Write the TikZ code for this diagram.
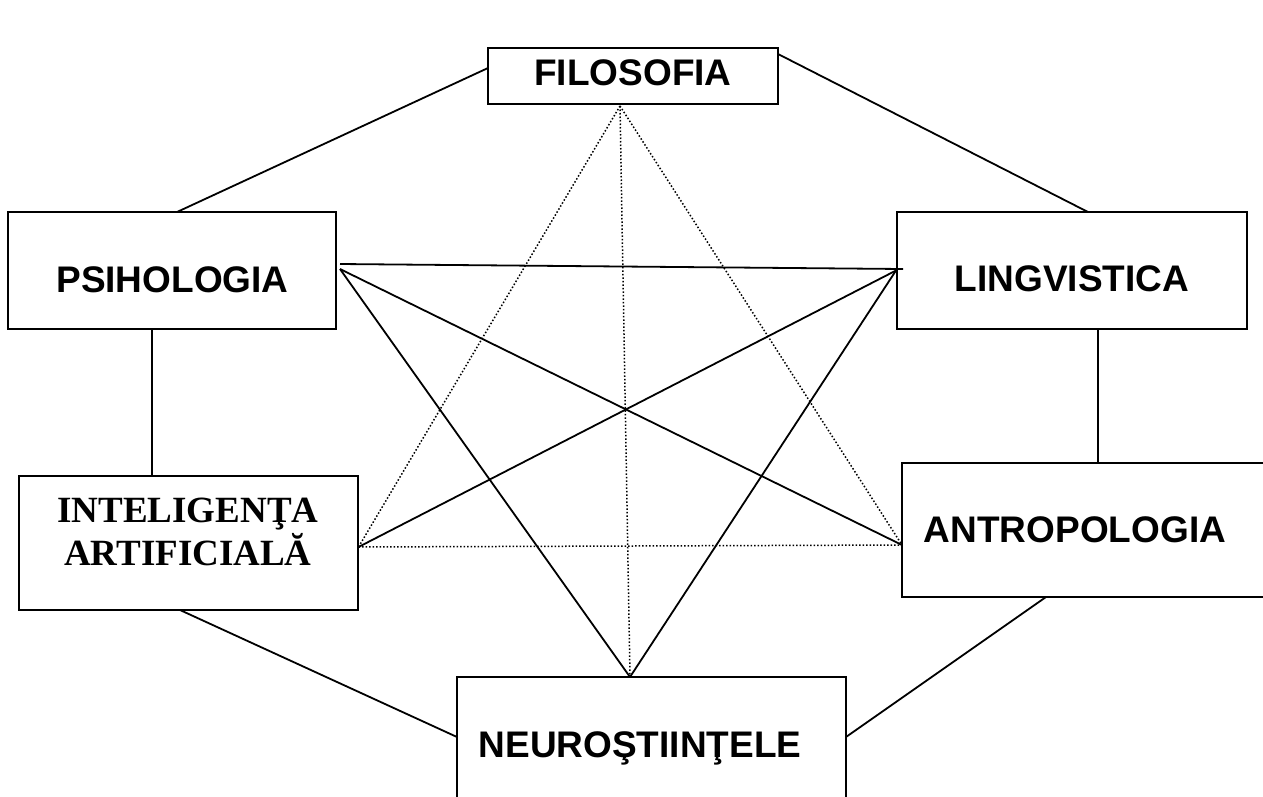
\documentclass[tikz,border=0pt]{standalone}
\usepackage{fontspec}
\setmainfont{Liberation Sans}
\newfontfamily\timesf{Liberation Serif}
\usetikzlibrary{calc}
\tikzset{
  box/.style={draw, line width=2pt, inner sep=0pt, outer sep=0pt, rectangle},
  lbl/.style={anchor=base, inner sep=0pt, font=\fontsize{37}{43}\selectfont\bfseries},
  conn/.style={line width=1.8pt},
  dots/.style={line width=1.5pt, dotted}
}
\begin{document}
\begin{tikzpicture}[x=1pt,y=-1pt]
\useasboundingbox (0,0) rectangle (1263,796);
\clip (0,0) rectangle (1263,796);
% boxes
\node[box, minimum width=290pt, minimum height=56pt] (filo) at (633,76) {};
\node[box, minimum width=328pt, minimum height=117pt] (psih) at (172,270.5) {};
\node[box, minimum width=350pt, minimum height=117pt] (ling) at (1072,270.5) {};
\node[box, minimum width=339pt, minimum height=134pt] (ia) at (188.5,543) {};
\node[box, minimum width=378pt, minimum height=134pt] (antr) at (1091,530) {};
\node[box, minimum width=389pt, minimum height=153pt] (neuro) at (651.5,753.5) {};
% labels
\node[lbl] (tfilo) at (633,85) {FILOSOFIA};
\node[lbl] (tpsih) at (172.5,292) {PSIHOLOGIA};
\node[lbl] (tling) at (1072,291) {LINGVISTICA};
\node[lbl, font=\fontsize{37}{43}\selectfont\bfseries\timesf] (tia1) at (188,522) {INTELIGENŢA};
\node[lbl, font=\fontsize{37}{43}\selectfont\bfseries\timesf] (tia2) at (188,565) {ARTIFICIALĂ};
\node[lbl] (tantr) at (1075,542) {ANTROPOLOGIA};
\node[lbl] (tneuro) at (640,757) {NEUROŞTIINŢELE};
% apex coordinates
\coordinate (pH) at ([xshift=4pt,yshift=6.5pt]psih.east);
\coordinate (pA) at ([xshift=4pt,yshift=1.5pt]psih.east);
\coordinate (lA) at ([xshift=-1pt]ling.west);
\coordinate (lH) at ([xshift=6pt,yshift=1.5pt]ling.west);
\coordinate (fA) at ([xshift=-13pt,yshift=-2pt]filo.south);
\coordinate (iA) at ([xshift=0.5pt,yshift=-4pt]ia.east);
\coordinate (aA) at ([yshift=-15pt]antr.west);
\coordinate (nA) at ([xshift=-21.5pt]neuro.north);
% outer hexagon
\draw[conn] ([yshift=8pt]filo.west) -- ([xshift=5pt]psih.north);
\draw[conn] ([yshift=22pt]filo.east) -- ([xshift=16pt]ling.north);
\draw[conn] ([xshift=-20pt]psih.south) -- ([xshift=-20pt]psih.south |- ia.north);
\draw[conn] ([xshift=26pt,yshift=1pt]ling.south) -- ([xshift=26pt]ling.south |- antr.north);
\draw[conn] ([xshift=-8.5pt]ia.south) -- ([yshift=16.5pt]neuro.west);
\draw[conn] ([xshift=-45pt]antr.south) -- ([yshift=16.5pt]neuro.east);
% inner solid lines
\draw[conn] (pH) -- (lH);
\draw[conn] (pA) -- (nA);
\draw[conn] (pA) -- (aA);
\draw[conn] (lA) -- (nA);
\draw[conn] (lA) -- (iA);
% dotted lines
\draw[dots] (fA) -- (iA);
\draw[dots] (fA) -- (aA);
\draw[dots] (fA) -- (nA);
\draw[dots] (iA) -- (aA);
\end{tikzpicture}
\end{document}
